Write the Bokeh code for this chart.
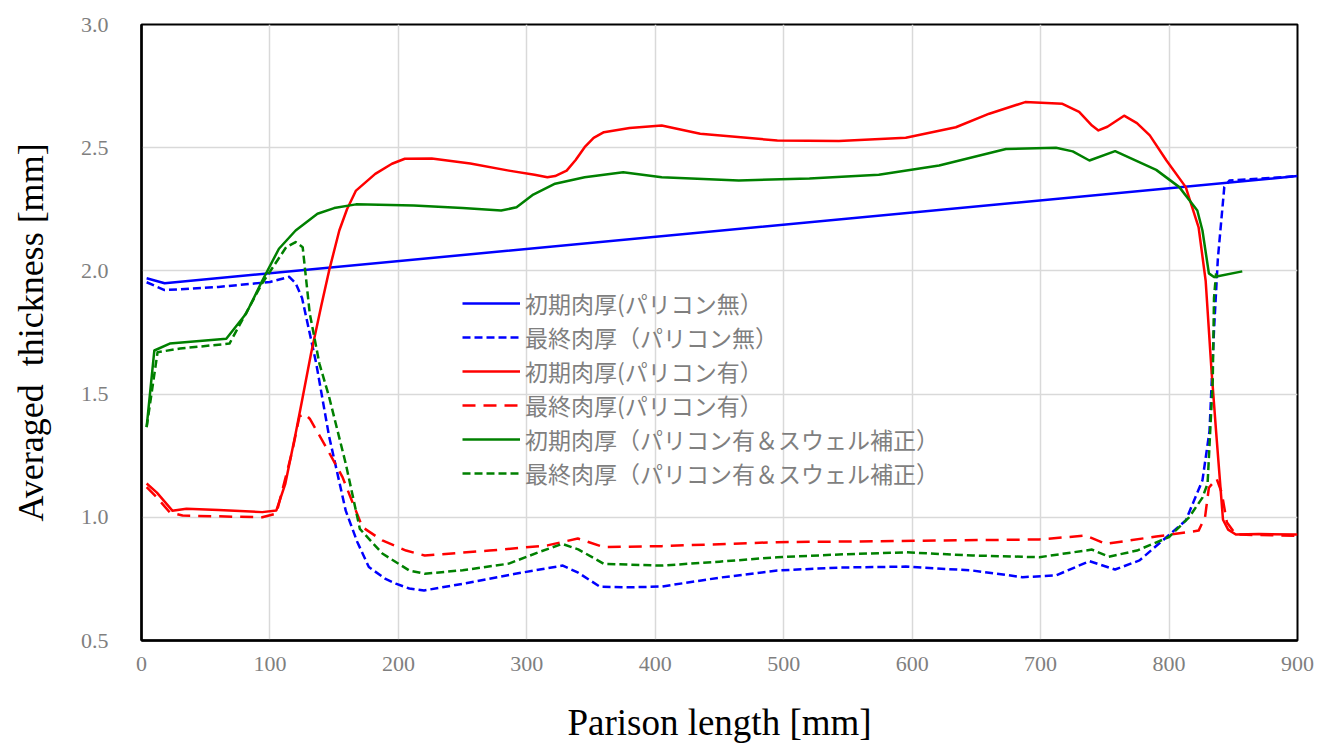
from bokeh.plotting import figure
from bokeh.models import Legend, LegendItem, FixedTicker, NumeralTickFormatter
from bokeh.embed import file_html
from bokeh.resources import INLINE

# ---- data ----
labels = [
    "初期肉厚(パリコン無）",
    "最終肉厚（パリコン無）",
    "初期肉厚(パリコン有）",
    "最終肉厚(パリコン有）",
    "初期肉厚（パリコン有＆スウェル補正）",
    "最終肉厚（パリコン有＆スウェル補正）",
]

init_no_x = [4, 18, 900]
init_no_y = [1.97, 1.95, 2.385]

final_no_x = [4, 18, 60, 100, 115, 120, 125, 130, 136, 146, 159, 168, 177, 190, 198, 208.5, 220, 250, 290, 328,
              340, 357, 380, 405, 450, 495, 543, 595, 647, 686, 712, 738, 758, 777, 795, 813, 826, 831.5, 835,
              838, 843, 847, 870, 900]
final_no_y = [1.954, 1.922, 1.935, 1.955, 1.976, 1.95, 1.89, 1.77, 1.625, 1.33, 1.027, 0.9, 0.798, 0.75, 0.731,
              0.711, 0.703, 0.73, 0.77, 0.804, 0.775, 0.718, 0.716, 0.719, 0.755, 0.784, 0.796, 0.80, 0.784,
              0.757, 0.764, 0.822, 0.788, 0.825, 0.906, 0.987, 1.15, 1.35, 1.76, 2.05, 2.34, 2.367, 2.374, 2.385]

init_yes_x = [4, 12, 24, 35, 60, 94, 105, 112, 120, 125, 132, 140, 146, 154, 160, 167, 182, 195, 205, 226, 256,
              286, 306, 316, 322, 331, 338, 345, 352, 360, 380, 405, 435, 495, 543, 595, 634, 660, 688, 717, 730,
              740, 745, 752, 765, 775, 785, 798, 813, 823, 828.5, 833, 836.6, 842, 846, 852, 870, 900]
init_yes_y = [1.137, 1.10, 1.027, 1.035, 1.03, 1.021, 1.028, 1.137, 1.34, 1.474, 1.665, 1.86, 2.0, 2.164, 2.25,
              2.326, 2.394, 2.435, 2.455, 2.456, 2.436, 2.407, 2.39, 2.38, 2.385, 2.407, 2.45, 2.502, 2.54, 2.563,
              2.58, 2.59, 2.557, 2.529, 2.527, 2.54, 2.583, 2.638, 2.685, 2.678, 2.645, 2.59, 2.57, 2.585, 2.63,
              2.60, 2.55, 2.448, 2.34, 2.177, 1.96, 1.6, 1.35, 0.99, 0.95, 0.93, 0.932, 0.93]

final_yes_x = [4, 12, 22, 32, 94, 105, 117.5, 123, 127, 131, 143.7, 156.5, 172, 187.5, 206, 220.5, 271, 316,
               339.7, 360, 405, 494.5, 574, 621, 699, 735, 750.6, 790, 823, 828, 831, 837, 841, 845, 852, 900]
final_yes_y = [1.122, 1.08, 1.02, 1.007, 1.0, 1.015, 1.271, 1.41, 1.42, 1.40, 1.285, 1.163, 0.96, 0.906, 0.865,
               0.845, 0.865, 0.886, 0.914, 0.879, 0.883, 0.899, 0.903, 0.906, 0.91, 0.926, 0.892, 0.922, 0.946,
               1.0, 1.12, 1.157, 1.10, 0.98, 0.93, 0.925]

init_swell_x = [4, 10, 22, 66, 81.5, 94, 107, 120, 137, 150, 167, 212, 250, 280, 292, 305, 322, 345, 375, 405,
                465, 520, 574, 621, 673, 712, 725, 738, 758, 790, 808, 822, 826, 831, 835, 857]
init_swell_y = [1.366, 1.677, 1.705, 1.725, 1.827, 1.96, 2.09, 2.164, 2.232, 2.255, 2.27, 2.265, 2.255, 2.245,
                2.258, 2.31, 2.354, 2.38, 2.40, 2.38, 2.367, 2.375, 2.39, 2.428, 2.495, 2.50, 2.485, 2.448, 2.486,
                2.41, 2.34, 2.245, 2.164, 1.99, 1.975, 1.998]

final_swell_x = [4, 12.5, 30, 68.5, 94, 112.6, 120, 125.5, 131, 138.5, 146, 159, 170, 187.5, 208.5, 220.5, 250,
                 286, 310, 327.6, 340, 360, 405, 450, 495, 543, 595, 647, 699, 740, 753, 775, 800, 815.6, 826,
                 830, 834, 835, 836.6]
final_swell_y = [1.366, 1.67, 1.685, 1.705, 1.95, 2.096, 2.117, 2.096, 1.827, 1.624, 1.49, 1.218, 0.953, 0.853,
                 0.784, 0.771, 0.785, 0.812, 0.86, 0.892, 0.87, 0.811, 0.804, 0.82, 0.838, 0.849, 0.858, 0.845,
                 0.838, 0.869, 0.84, 0.865, 0.92, 1.0, 1.08, 1.137, 1.555, 1.89, 1.99]

x_ticks = [0, 100, 200, 300, 400, 500, 600, 700, 800, 900]
y_ticks = [0.5, 1.0, 1.5, 2.0, 2.5, 3.0]

# ---- figure ----
p = figure(width=1321, height=749, x_range=(0, 900), y_range=(0.5, 3.0),
           output_backend="svg", toolbar_location=None,
           min_border_left=141, min_border_right=24, min_border_top=24, min_border_bottom=109)
p.background_fill_color = "white"
p.border_fill_color = "white"
p.outline_line_color = "black"
p.outline_line_width = 2

p.xgrid.grid_line_color = "#d9d9d9"
p.ygrid.grid_line_color = "#d9d9d9"
p.xgrid.grid_line_width = 1.5
p.ygrid.grid_line_width = 1.5

p.xaxis.ticker = FixedTicker(ticks=x_ticks)
p.yaxis.ticker = FixedTicker(ticks=y_ticks)
p.yaxis.formatter = NumeralTickFormatter(format="0.0")
for ax in (p.xaxis[0], p.yaxis[0]):
    ax.major_tick_line_color = None
    ax.minor_tick_line_color = None
    ax.axis_line_color = "black"
    ax.axis_line_width = 2.5
    ax.major_label_text_color = "#7f7f7f"
    ax.major_label_text_font = "Liberation Serif"
    ax.axis_label_text_font = "Liberation Serif"
    ax.axis_label_text_font_style = "normal"
    ax.axis_label_text_color = "black"

p.xaxis.major_label_text_font_size = "22px"
p.yaxis.major_label_text_font_size = "22px"
p.xaxis.major_label_standoff = 10
p.yaxis.major_label_standoff = 27
p.xaxis.axis_label = "Parison length [mm]"
p.yaxis.axis_label = "Averaged\u00a0 thickness [mm]"
p.xaxis.axis_label_text_font_size = "37px"
p.yaxis.axis_label_text_font_size = "36px"
p.xaxis.axis_label_standoff = 28
p.yaxis.axis_label_standoff = 27

lw = 2.5
r1 = p.line(init_no_x, init_no_y, line_color="#0000ff", line_width=lw, line_join="round")
r2 = p.line(final_no_x, final_no_y, line_color="#0000ff", line_width=lw, line_dash="8 4", line_join="round")
r3 = p.line(init_yes_x, init_yes_y, line_color="#ff0000", line_width=lw, line_join="round")
r4 = p.line(final_yes_x, final_yes_y, line_color="#ff0000", line_width=lw, line_dash="13 8", line_join="round")
r5 = p.line(init_swell_x, init_swell_y, line_color="#008000", line_width=lw, line_join="round")
r6 = p.line(final_swell_x, final_swell_y, line_color="#008000", line_width=lw, line_dash="8 4", line_join="round")

items = [LegendItem(label=l, renderers=[r]) for l, r in zip(labels, [r1, r2, r3, r4, r5, r6])]
legend = Legend(items=items, location=(321, 150))
legend.background_fill_alpha = 0
legend.border_line_color = None
legend.padding = 0
legend.margin = 0
legend.glyph_width = 58
legend.glyph_height = 20
legend.label_height = 28
legend.spacing = 0
legend.label_standoff = 5
legend.label_text_font = "Noto Sans CJK JP"
legend.label_text_font_size = "23px"
legend.label_text_color = "#7f7f7f"
p.add_layout(legend)

open("out.html", "w").write(file_html(p, INLINE))
